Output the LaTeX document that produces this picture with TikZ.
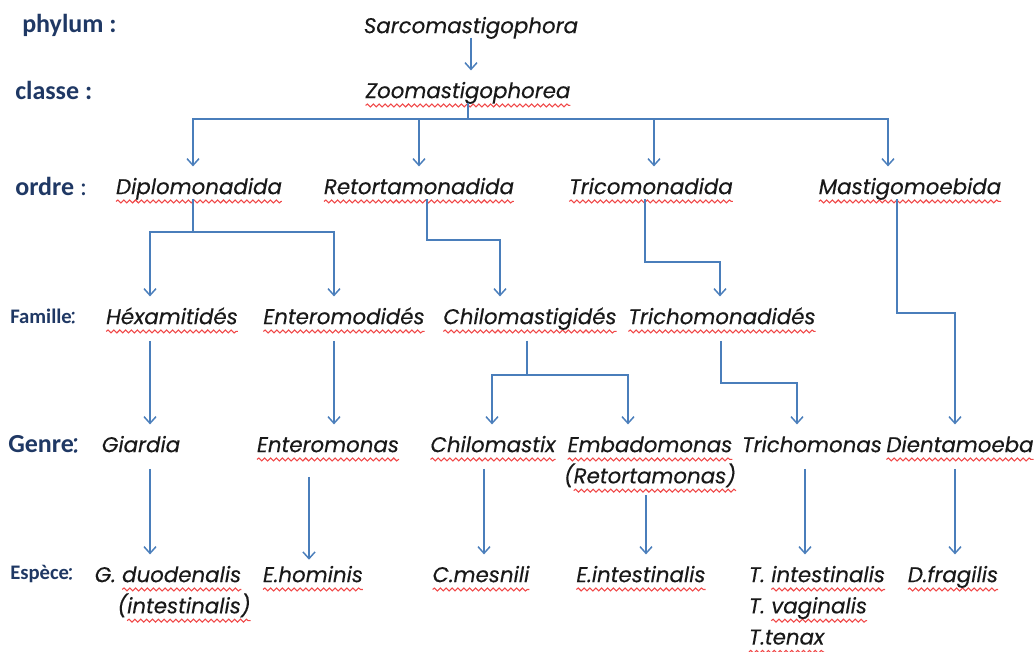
\documentclass[tikz,border=0pt]{standalone}
\usepackage{fontspec}
\setmainfont{Poppins}[ItalicFeatures={FakeBold=0.3}]
\newfontfamily\rankfont{Carlito}
\usetikzlibrary{arrows.meta,positioning,calc,decorations.pathmorphing}

\definecolor{linkblue}{HTML}{4A7EBB}
\definecolor{rankblue}{HTML}{1F3864}
\definecolor{wavered}{HTML}{F04848}

\newsavebox\spbox
\newdimen\spwd
\newcommand{\sperr}[1]{\sbox\spbox{#1}\spwd=\wd\spbox\leavevmode
  \rlap{\tikz[overlay,baseline=0pt]\draw[wavered, line width=0.8pt, decorate,
    decoration={snake, amplitude=1.1pt, segment length=4.4pt}] (0pt,-5.5pt) -- (\spwd,-5.5pt);}%
  \usebox\spbox}

\tikzset{
  taxon/.style={font=\fontsize{16}{19}\selectfont\itshape, text=black!90,
    text height=13.6pt, text depth=1.4pt, inner sep=2pt},
  rank/.style={font=\rankfont\bfseries\fontsize{19.5}{22}\selectfont, text=rankblue,
    anchor=west, inner sep=0pt},
  smallrank/.style={rank, font=\rankfont\bfseries\fontsize{15.5}{18}\selectfont},
  link/.style={draw=linkblue, line width=1.1pt,
    -{Straight Barb[length=5pt,width=9pt]}, shorten >=5pt},
  low/.style={shorten <=9pt},
}

\begin{document}
\begin{tikzpicture}[x=0.75pt, y=-0.75pt]
    \useasboundingbox (0,0) rectangle (1036,652);

    \node [rank] (phylum) at (22,25) {phylum :};
    \node [rank] (classe) at (15,90) {classe :};
    \node [rank] (ordre) at (15,186) {ordre \textmd{:}};
    \node [smallrank] (famille) at (10,316) {Famille\textnormal{\itshape:}};
    \node [rank] (genre) at (8,444) {Genre\textnormal{\itshape:}};
    \node [smallrank] (espece) at (10,574) {Espèce\textnormal{\itshape:}};

    \node [taxon] (sarco) at (471,25) {Sarcomastigophora};
    \node [taxon] (zoo) at (468,90) {\sperr{Zoomastigophorea}};

    \foreach \name/\xpos/\txt in {diplo/199/Diplomonadida, retorta/419/Retortamonadida,
        tricho/651/Tricomonadida, mastigo/910/Mastigomoebida} {
      \node [taxon] (\name) at (\xpos,186) {\sperr{\txt}};
    }

    \foreach \name/\xpos/\txt in {hexa/172/Héxamitidés, enterofam/344/Enteromodidés,
        chilofam/530/Chilomastigidés, trichofam/722/Trichomonadidés} {
      \node [taxon] (\name) at (\xpos,316) {\sperr{\txt}};
    }

    \node [taxon] (giardia) at (141,444) {Giardia};
    \node [taxon] (enteromonas) at (328,444) {\sperr{Enteromonas}};
    \node [taxon] (chilomastix) at (493,444) {\sperr{Chilomastix}};
    \node [taxon] (embado) at (650,444) {\sperr{Embadomonas}};
    \node [taxon, below = 4pt of embado] (retortamonas) {(\sperr{Retortamonas)}};
    \node [taxon] (trichomonas) at (812,444) {Trichomonas};
    \node [taxon] (dienta) at (960,444) {\sperr{Dientamoeba}};

    \node [taxon] (gduo) at (168,574) {G. \sperr{duodenalis}};
    \node [taxon, below = 4pt of gduo.south east, anchor=north east, xshift=7pt] (gintest)
      {(\sperr{intestinalis)}};
    \node [taxon] (ehom) at (313,574) {\sperr{E.hominis}};
    \node [taxon] (cmes) at (481,574) {\sperr{C.mesnili}};
    \node [taxon] (eint) at (641,574) {\sperr{E.intestinalis}};
    \node [taxon, anchor=west] (tint) at (746,574) {T. \sperr{intestinalis}};
    \node [taxon, below = 4pt of tint.south west, anchor=north west] (tvag) {T. \sperr{vaginalis}};
    \node [taxon, below = 4pt of tvag.south west, anchor=north west] (tten) {\sperr{T.tenax}};
    \node [taxon] (dfra) at (953,574) {\sperr{D.fragilis}};

    \draw [link] (sarco.south) -- (sarco.south |- zoo.north);
    \foreach \o/\xpos in {diplo/193,retorta/419,tricho/654,mastigo/888}
      \draw [link] (zoo.south) -- ++(0,16) -| (\o.north -| \xpos,0);

    \draw [link] (diplo.south -| 193,0) -- ++(0,33) -| (hexa.north -| 150,0);
    \draw [link] (diplo.south -| 193,0) -- ++(0,33) -| (enterofam.north -| 334,0);
    \draw [link] (retorta.south -| 427,0) -- ++(0,41) -| (chilofam.north -| 500,0);
    \draw [link] (tricho.south -| 645,0) -- ++(0,63) -| (trichofam.north -| 720,0);
    \draw [link] (mastigo.south -| 897,0) -- ++(0,114) -| (dienta.north -| 955,0);

    \draw [link, low] (hexa.south -| 150,0) -- (giardia.north -| 150,0);
    \draw [link, low] (enterofam.south -| 334,0) -- (enteromonas.north -| 334,0);
    \draw [link, low] (chilofam.south -| 527,0) -- ++(0,46) -| (chilomastix.north -| 492,0);
    \draw [link, low] (chilofam.south -| 527,0) -- ++(0,46) -| (embado.north -| 628,0);
    \draw [link, low] (trichofam.south -| 721,0) -- ++(0,54) -| (trichomonas.north -| 797,0);

    \draw [link, low] (giardia.south -| 150,0) -- (gduo.north -| 150,0);
    \draw [link, shorten <=15pt, shorten >=1pt] (enteromonas.south -| 309,0) -- (ehom.north -| 309,0);
    \draw [link, low] (chilomastix.south -| 484,0) -- (cmes.north -| 484,0);
    \draw [link, shorten <=5pt] (retortamonas.south -| 646,0) -- (eint.north -| 646,0);
    \draw [link, low] (trichomonas.south -| 805,0) -- (tint.north -| 805,0);
    \draw [link, low] (dienta.south -| 955,0) -- (dfra.north -| 955,0);
\end{tikzpicture}
\end{document}
